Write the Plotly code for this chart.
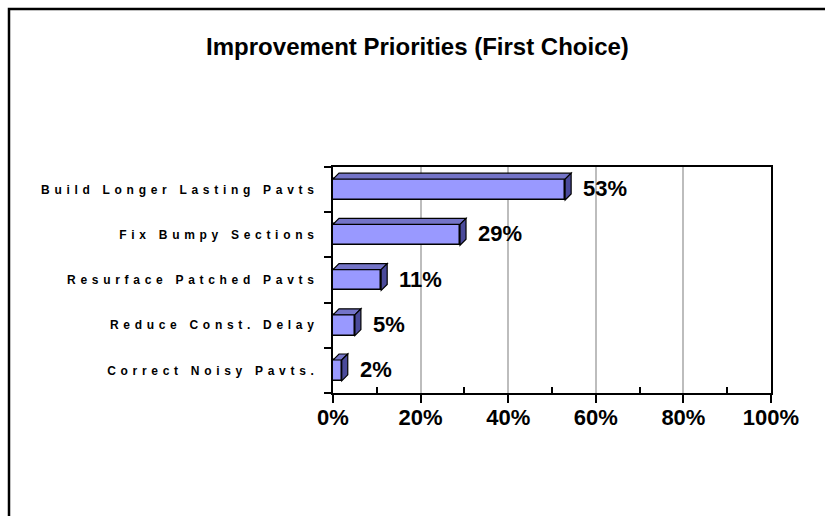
import plotly.graph_objects as go

# ---- data ----
categories = ["Build Longer Lasting Pavts", "Fix Bumpy Sections", "Resurface Patched Pavts",
              "Reduce Const. Delay", "Correct Noisy Pavts."]
values = [53, 29, 11, 5, 2]
x_ticks = [0, 20, 40, 60, 80, 100]
title_text = "Improvement Priorities (First Choice)"

# ---- layout geometry ----
W, H = 825, 516
L, R, T, B = 333, 54, 167, 123
plot_w = W - L - R
plot_h = H - T - B
n = len(categories)
pos = list(range(n))

FONT = "Liberation Sans, Arial, sans-serif"
FRONT = "#9999FF"
TOP = "#7474C8"
SIDE = "#4A4A9A"

bar_w = 0.46
h = bar_w / 2
depth_px = 6
dx = depth_px * 100.0 / plot_w
dy = depth_px * n / plot_h

fig = go.Figure()
fig.add_trace(go.Bar(
    x=values, y=pos, orientation="h", width=bar_w,
    marker=dict(color=FRONT, line=dict(color="black", width=1.5)),
    hoverinfo="skip", showlegend=False,
))

shapes = []
for i, v in zip(pos, values):
    top = i - h
    bot = i + h
    # top face
    shapes.append(dict(
        type="path", xref="x", yref="y", layer="above",
        path=f"M 0,{top} L {v},{top} L {v+dx},{top-dy} L {dx},{top-dy} Z",
        fillcolor=TOP, line=dict(color="black", width=1.2),
    ))
    # side face
    shapes.append(dict(
        type="path", xref="x", yref="y", layer="above",
        path=f"M {v},{top} L {v+dx},{top-dy} L {v+dx},{bot-dy} L {v},{bot} Z",
        fillcolor=SIDE, line=dict(color="black", width=1.2),
    ))

# outer frame (extends beyond the canvas on right and bottom)
shapes.append(dict(
    type="rect", xref="paper", yref="paper", layer="above",
    x0=(9 - L) / plot_w, x1=(W + 30 - L) / plot_w,
    y0=(H - B - (H + 30)) / plot_h, y1=(H - B - 9) / plot_h,
    line=dict(color="black", width=2.5), fillcolor="rgba(0,0,0,0)",
))

annotations = []
for i, v in zip(pos, values):
    annotations.append(dict(
        x=v, y=i, xref="x", yref="y", text=f"{v}%", showarrow=False,
        xanchor="left", yanchor="middle", xshift=16, yshift=1,
        font=dict(family=FONT, size=22, color="black", weight="bold"),
    ))

fig.update_layout(
    width=W, height=H,
    margin=dict(l=L, r=R, t=T, b=B, pad=0),
    paper_bgcolor="white", plot_bgcolor="white",
    title=dict(text=title_text, x=(205 + 630) / 2 / W, xanchor="center",
               y=1 - 47 / H, yanchor="middle", yref="container",
               font=dict(family=FONT, size=24, color="black", weight="bold")),
    shapes=shapes, annotations=annotations,
    bargap=0,
    xaxis=dict(
        range=[0, 100], tickvals=x_ticks, ticktext=[f"{t}%" for t in x_ticks],
        showgrid=True, gridcolor="#BDBDBD", gridwidth=1.5,
        showline=True, linecolor="black", linewidth=2, mirror=True,
        ticks="outside", ticklen=8, tickwidth=2, tickcolor="black",
        ticklabelstandoff=-4,
        minor=dict(ticks="inside", ticklen=6, tickwidth=2, tickcolor="black",
                   tick0=10, dtick=20, showgrid=False),
        tickfont=dict(family=FONT, size=22, color="black", weight="bold"),
        zeroline=False, fixedrange=True,
    ),
    yaxis=dict(
        range=[n - 0.5, -0.5], tickvals=pos, ticktext=categories,
        showgrid=False, zeroline=False,
        showline=True, linecolor="black", linewidth=2, mirror=True,
        ticks="", ticklabelstandoff=10,
        minor=dict(ticks="outside", ticklen=7, tickwidth=2, tickcolor="black",
                   tick0=0.5, dtick=1, showgrid=False),
        tickfont=dict(family=FONT, size=12, color="black", weight="bold"),
        fixedrange=True,
    ),
)

post = """
document.body.style.margin = '0';
document.body.style.padding = '0';
var gd = document.getElementById('{plot_id}');
function spaceLabels(){
  gd.querySelectorAll('.ytick text').forEach(function(t){ t.style.letterSpacing = '4.7px'; });
}
spaceLabels();
gd.on('plotly_afterplot', spaceLabels);
"""

fig.write_html("out.html", post_script=post, config={"displayModeBar": False})
